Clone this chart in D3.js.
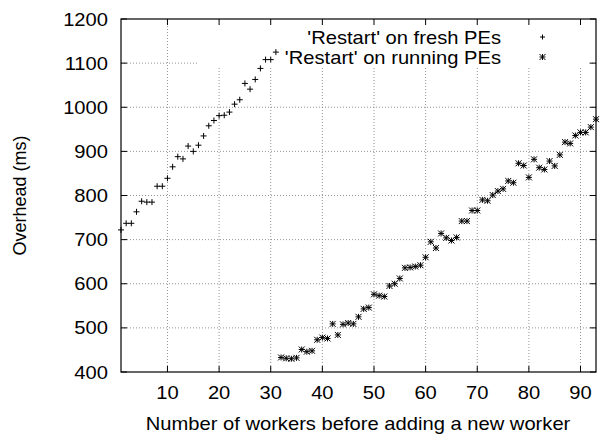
<!DOCTYPE html>
<html>
  <head>
    <meta charset="utf-8">
    <title>Restart overhead</title>
    <script src="https://d3js.org/d3.v7.min.js"></script>
    <style>
      body { margin: 0; background: #fff; }
      text { font-family: "Liberation Sans", Arial, Helvetica, sans-serif; font-size: 18px; fill: #000; }
    </style>
  </head>
  <body>
    <div id="chart"></div>
    <script>
      // data
      const freshWorkers = d3.range(1, 32);
      const freshOverhead = [722, 737, 737, 763, 787, 785, 785, 821, 821, 839, 865, 888, 883, 912, 900, 914,
        935, 958, 970, 981, 982, 989, 1007, 1017, 1054, 1041, 1063, 1088, 1108, 1108, 1125];
      const runningWorkers = d3.range(32, 94);
      const runningOverhead = [433, 431, 430, 432, 451, 446, 448, 473, 478, 476, 509, 484, 508, 511, 509, 525,
        543, 546, 576, 573, 571, 595, 600, 612, 636, 637, 639, 642, 660, 695, 681, 714, 704, 698, 705, 742,
        742, 766, 766, 790, 788, 801, 810, 815, 833, 829, 873, 868, 841, 882, 863, 859, 878, 867, 892, 921,
        918, 936, 943, 943, 955, 973];
      const xTicks = [10, 20, 30, 40, 50, 60, 70, 80, 90];
      const yTicks = [400, 500, 600, 700, 800, 900, 1000, 1100, 1200];
      const seriesNames = ["'Restart' on fresh PEs", "'Restart' on running PEs"];

      const width = 606, height = 434;
      const margin = { top: 19, right: 10, bottom: 62, left: 121 };
      const stretch = 1.12; // the original fonts are a little wide

      const svg = d3.select("#chart")
        .append("svg")
          .attr("width", width)
          .attr("height", height);

      const x = d3.scaleLinear().domain([1, 93]).range([margin.left, width - margin.right]);
      const y = d3.scaleLinear().domain([400, 1200]).range([height - margin.bottom, margin.top]);

      // writes a horizontally stretched label
      function label(tx, ty, str, anchor) {
        return svg.append("text")
          .attr("transform", "translate(" + tx + "," + ty + ") scale(" + stretch + ",1)")
          .attr("text-anchor", anchor)
          .text(str);
      }

      // grid
      const grid = svg.append("g")
        .attr("stroke", "#777")
        .attr("stroke-width", 0.8)
        .attr("stroke-dasharray", "1,2");
      grid.selectAll(".vg")
        .data(xTicks)
        .enter().append("line")
          .attr("x1", d => x(d)).attr("x2", d => x(d))
          .attr("y1", y(400)).attr("y2", y(1200));
      grid.selectAll(".hg")
        .data(yTicks.slice(1, -1))
        .enter().append("line")
          .attr("x1", x(1)).attr("x2", x(93))
          .attr("y1", d => y(d)).attr("y2", d => y(d));

      // legend box hides the grid behind it
      svg.append("rect")
        .attr("x", 198).attr("y", margin.top)
        .attr("width", 390).attr("height", 48)
        .attr("fill", "#fff");

      // ticks on all four sides, pointing in
      const tl = 6;
      const ticks = svg.append("g").attr("stroke", "#000").attr("stroke-width", 1);
      xTicks.forEach(d => {
        ticks.append("line").attr("x1", x(d)).attr("x2", x(d)).attr("y1", y(400)).attr("y2", y(400) - tl);
        ticks.append("line").attr("x1", x(d)).attr("x2", x(d)).attr("y1", y(1200)).attr("y2", y(1200) + tl);
      });
      yTicks.forEach(d => {
        ticks.append("line").attr("x1", x(1)).attr("x2", x(1) + tl).attr("y1", y(d)).attr("y2", y(d));
        ticks.append("line").attr("x1", x(93)).attr("x2", x(93) - tl).attr("y1", y(d)).attr("y2", y(d));
      });

      // tick labels
      xTicks.forEach(d => label(x(d), y(400) + 27, d, "middle"));
      yTicks.forEach(d => label(x(1) - 13, y(d) + 6.5, d, "end"));

      // axis titles
      label(358, 430, "Number of workers before adding a new worker", "middle");
      svg.append("text")
        .attr("transform", "translate(26," + ((margin.top + height - margin.bottom) / 2) + ") rotate(-90)")
        .attr("text-anchor", "middle")
        .text("Overhead (ms)");

      // markers
      function plus(g, cx, cy, r) {
        g.append("path").attr("d", `M${cx - r},${cy}H${cx + r}M${cx},${cy - r}V${cy + r}`);
      }
      function star(g, cx, cy, r) {
        plus(g, cx, cy, r);
        g.append("path").attr("d", `M${cx - r},${cy - r}L${cx + r},${cy + r}M${cx - r},${cy + r}L${cx + r},${cy - r}`);
      }
      const marks = svg.append("g").attr("stroke", "#000").attr("stroke-width", 1).attr("fill", "none");
      freshWorkers.forEach((w, i) => plus(marks, x(w), y(freshOverhead[i]), 3));
      runningWorkers.forEach((w, i) => star(marks, x(w), y(runningOverhead[i]), 3));

      // legend
      seriesNames.forEach((name, i) => label(501, 43.5 + i * 20, name, "end"));
      plus(marks, 542.5, 37, 2.5);
      star(marks, 542.5, 57, 3);

      // border
      svg.append("rect")
        .attr("x", x(1)).attr("y", y(1200))
        .attr("width", x(93) - x(1)).attr("height", y(400) - y(1200))
        .attr("fill", "none")
        .attr("stroke", "#000")
        .attr("stroke-width", 1.2);
    </script>
  </body>
</html>
